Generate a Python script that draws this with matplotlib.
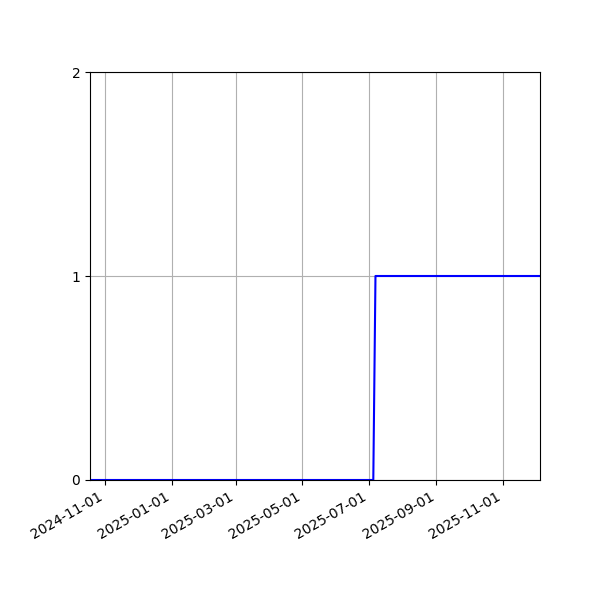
import matplotlib
matplotlib.use("Agg")
import matplotlib.pyplot as plt
import matplotlib.dates as mdates
import numpy as np

dates = np.array(["2024-10-18", "2025-07-05", "2025-07-07", "2025-12-05"], dtype="datetime64[D]")
values = [0, 0, 1, 1]
tick_dates = np.array(["2024-11-01", "2025-01-01", "2025-03-01", "2025-05-01",
                       "2025-07-01", "2025-09-01", "2025-11-01"], dtype="datetime64[D]")

fig, ax = plt.subplots(figsize=(6, 6), dpi=100)
ax.plot(dates, values, color="blue", linewidth=1.5)
ax.set_xlim(dates[0], dates[-1])
ax.set_ylim(0, 2)
ax.set_yticks([0, 1, 2])
ax.set_xticks(tick_dates)
ax.xaxis.set_major_formatter(mdates.DateFormatter("%Y-%m-%d"))
ax.grid(True)
fig.autofmt_xdate()
fig.subplots_adjust(left=0.15, right=0.9, top=0.88, bottom=0.2)
fig.savefig("out.png")
